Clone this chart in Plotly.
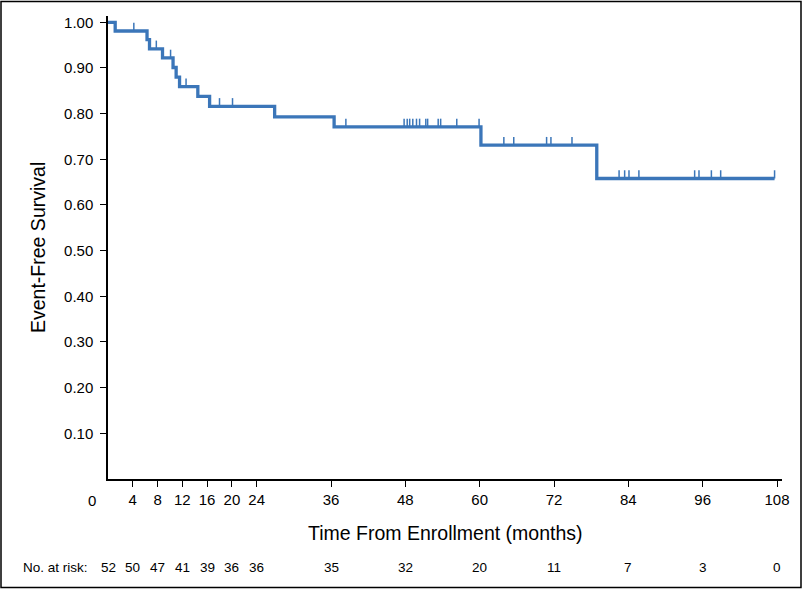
import plotly.graph_objects as go

# ---- data ----
event_times = [1.16, 6.3, 6.7, 8.8, 10.5, 11.0, 11.55, 14.5, 16.4, 26.9, 36.5, 60.2, 78.9]
event_surv = [0.981, 0.962, 0.942, 0.922, 0.901, 0.880, 0.859, 0.838, 0.816, 0.793, 0.771, 0.731, 0.658]
last_followup = 107.6
censor_times = [4.17, 7.8, 10.1, 12.6, 18.0, 20.1, 38.4, 47.8, 48.3, 48.7, 49.2, 49.8,
                50.3, 51.3, 51.6, 53.3, 53.7, 56.3, 59.9, 63.9, 65.5, 70.8, 71.5, 74.9,
                82.5, 83.4, 84.1, 85.7, 94.7, 95.4, 97.4, 98.9, 107.6]
x_ticks = [4, 8, 12, 16, 20, 24, 36, 48, 60, 72, 84, 96, 108]
y_ticks = [0.10, 0.20, 0.30, 0.40, 0.50, 0.60, 0.70, 0.80, 0.90, 1.00]
risk_times = [0, 4, 8, 12, 16, 20, 24, 36, 48, 60, 72, 84, 96, 108]
at_risk = [52, 50, 47, 41, 39, 36, 36, 35, 32, 20, 11, 7, 3, 0]

BLUE = "#3b76b9"
FONT = "Liberation Sans, Arial, sans-serif"

def surv_at(t):
    s = 1.0
    for et, es in zip(event_times, event_surv):
        if et <= t:
            s = es
    return s

step_x = [0] + event_times + [last_followup]
step_y = [1.0] + event_surv + [event_surv[-1]]

cx, cy = [], []
for t in censor_times:
    s = surv_at(t)
    cx += [t, t, None]
    cy += [s, s + 0.018, None]

fig = go.Figure()
fig.add_trace(go.Scatter(x=step_x, y=step_y, mode="lines", line=dict(color=BLUE, width=3.3, shape="hv"),
                         hoverinfo="skip", showlegend=False))
fig.add_trace(go.Scatter(x=cx, y=cy, mode="lines", line=dict(color=BLUE, width=1.5),
                         hoverinfo="skip", showlegend=False))

W, H = 803, 589
L, R, T, B = 108, 21, 16, 110
pw, ph = W - L - R, H - T - B

fig.update_layout(
    width=W, height=H,
    margin=dict(l=L, r=R, t=T, b=B, pad=0),
    paper_bgcolor="white", plot_bgcolor="white",
    font=dict(family=FONT, color="black"),
    showlegend=False,
    xaxis=dict(range=[0, 108.8], tickvals=x_ticks, ticktext=[str(v) for v in x_ticks],
               ticks="outside", ticklen=6, tickwidth=1.2, tickcolor="black",
               showline=True, linecolor="black", linewidth=1.5,
               showgrid=False, zeroline=False, tickfont=dict(size=15, family=FONT)),
    yaxis=dict(range=[0, 1.0138], tickvals=y_ticks, tickformat=".2f",
               ticks="outside", ticklen=6, tickwidth=1.2, tickcolor="black",
               ticklabelstandoff=4,
               showline=True, linecolor="black", linewidth=1.5,
               showgrid=False, zeroline=False, tickfont=dict(size=15, family=FONT)),
)

ann = []
# "0" corner label
ann.append(dict(x=0, y=0, xref="x", yref="paper", text="0", showarrow=False,
                xanchor="center", yanchor="middle",
                xshift=-16.5, yshift=-21, font=dict(size=15, family=FONT)))
# axis titles
ann.append(dict(x=0.5, y=0, xref="paper", yref="paper", text="Time From Enrollment (months)",
                xanchor="center", yanchor="middle",
                showarrow=False, yshift=-54, font=dict(size=19.5, family=FONT)))
ann.append(dict(x=0, y=0.5, xref="paper", yref="paper", text="Event-Free Survival",
                xanchor="center", yanchor="middle",
                showarrow=False, xshift=-70.5, textangle=-90, font=dict(size=19.5, family=FONT)))
# at-risk row
ann.append(dict(x=0, y=0, xref="paper", yref="paper", text="No. at risk:", showarrow=False,
                xanchor="left", yanchor="middle", xshift=20.7 - L, yshift=-88.5,
                font=dict(size=13.5, family=FONT)))
for t, n in zip(risk_times, at_risk):
    ann.append(dict(x=t, y=0, xref="x", yref="paper", text=str(n), showarrow=False,
                    xanchor="center", yanchor="middle",
                    yshift=-88.5, font=dict(size=13.5, family=FONT)))
fig.update_layout(annotations=ann)

# outer frame around the whole figure
fig.add_shape(type="rect", xref="paper", yref="paper",
              x0=(1 - L) / pw, x1=(801 - L) / pw,
              y0=(H - B - 587.5) / ph, y1=(H - B - 1.5) / ph,
              line=dict(color="black", width=1.5), fillcolor="rgba(0,0,0,0)", layer="below")

fig.write_html("out.html", config={"displayModeBar": False},
               post_script="document.body.style.margin='0';document.body.style.overflow='hidden';")
